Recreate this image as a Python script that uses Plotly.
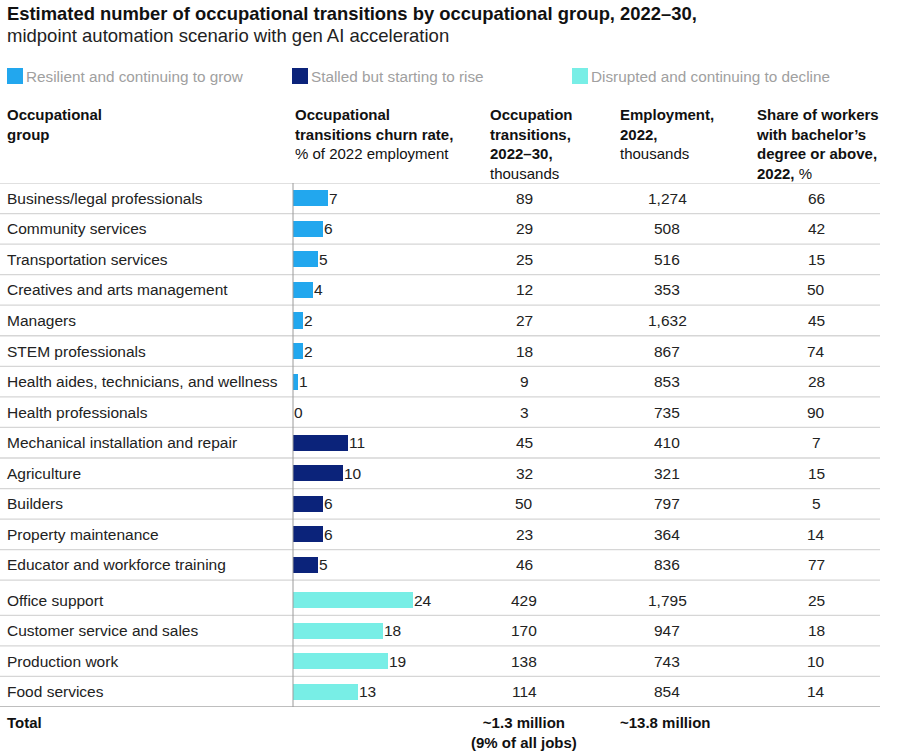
import plotly.graph_objects as go

# ---------------- data ----------------
occupations = [
    "Business/legal professionals", "Community services", "Transportation services",
    "Creatives and arts management", "Managers", "STEM professionals",
    "Health aides, technicians, and wellness", "Health professionals",
    "Mechanical installation and repair", "Agriculture", "Builders",
    "Property maintenance", "Educator and workforce training",
    "Office support", "Customer service and sales", "Production work", "Food services",
]
group_of_row = [0] * 8 + [1] * 5 + [2] * 4
churn_rate = [7, 6, 5, 4, 2, 2, 1, 0, 11, 10, 6, 6, 5, 24, 18, 19, 13]
transitions = [89, 29, 25, 12, 27, 18, 9, 3, 45, 32, 50, 23, 46, 429, 170, 138, 114]
employment = [1274, 508, 516, 353, 1632, 867, 853, 735, 410, 321, 797, 364, 836, 1795, 947, 743, 854]
bachelor_share = [66, 42, 15, 50, 45, 74, 28, 90, 7, 15, 5, 14, 77, 25, 18, 10, 14]
group_names = ["Resilient and continuing to grow", "Stalled but starting to rise",
               "Disrupted and continuing to decline"]
total_transitions = "~1.3 million<br>(9% of all jobs)"
total_employment = "~13.8 million"

# ---------------- style ----------------
W, H = 900, 755
colors = ["#22A7EE", "#0B237A", "#78EEE6"]
FONT = "Liberation Sans"
TXT = "#222222"

def px(x):
    return x / W

def py(y):
    return 1 - y / H

# row positions (Office support row slightly taller)
ypos = [i + (0.15 if i >= 13 else 0.0) for i in range(len(occupations))]
top_px, bot_px = 183, 707
y_top, y_bot = -0.5, ypos[-1] + 0.5

fig = go.Figure()
for g, name in enumerate(group_names):
    idx = [i for i, gg in enumerate(group_of_row) if gg == g]
    fig.add_trace(go.Bar(
        x=[churn_rate[i] for i in idx],
        y=[ypos[i] for i in idx],
        orientation="h",
        marker=dict(color=colors[g], line=dict(width=0)),
        width=0.53,
        name=name,
        showlegend=False,
        hoverinfo="skip",
    ))

annotations = []
shapes = []

# title
annotations.append(dict(x=px(5), y=py(13.5), xref="paper", yref="paper", xanchor="left", yanchor="middle",
                        text="<b>Estimated number of occupational transitions by occupational group, 2022–30,</b>",
                        showarrow=False, font=dict(family=FONT, size=18.4, color="#111111")))
annotations.append(dict(x=px(5), y=py(35), xref="paper", yref="paper", xanchor="left", yanchor="middle",
                        text="midpoint automation scenario with gen AI acceleration",
                        showarrow=False, font=dict(family=FONT, size=18.5, color="#222222")))

# legend
leg_x = [7, 292, 572]
for g, name in enumerate(group_names):
    shapes.append(dict(type="rect", xref="paper", yref="paper",
                       x0=px(leg_x[g]), x1=px(leg_x[g] + 16), y0=py(84), y1=py(68),
                       fillcolor=colors[g], line=dict(width=0)))
    annotations.append(dict(x=px(leg_x[g] + 17), y=py(76), xref="paper", yref="paper",
                            xanchor="left", yanchor="middle", text=name, showarrow=False,
                            font=dict(family=FONT, size=15.3, color="#a0a0a0")))

# headers
hdr_font = dict(family=FONT, size=15, color="#111111")
headers = [
    (5, "<b>Occupational<br>group</b>"),
    (293, "<b>Occupational<br>transitions churn rate,</b><br>% of 2022 employment"),
    (488, "<b>Occupation<br>transitions,<br>2022–30,</b><br>thousands"),
    (618, "<b>Employment,<br>2022,</b><br>thousands"),
    (754, "<b>Share of workers<br>with bachelor’s<br>degree or above,<br>2022,</b> %"),
]
for x, t in headers:
    annotations.append(dict(x=px(x), y=py(104), xref="paper", yref="paper", xanchor="left", yanchor="top",
                            text=t, showarrow=False, align="left", font=hdr_font))

# body rows
body_font = dict(family=FONT, size=15.5, color=TXT)
for i, occ in enumerate(occupations):
    annotations.append(dict(x=px(5), y=ypos[i], xref="paper", yref="y", xanchor="left", yanchor="middle",
                            text=occ, showarrow=False, font=body_font))
    # bar value label right at the end of the bar
    annotations.append(dict(x=churn_rate[i], y=ypos[i], xref="x", yref="y", xanchor="left", yanchor="middle",
                            text=str(churn_rate[i]), showarrow=False, xshift=-1, font=body_font))
    for cx, val in [(524, f"{transitions[i]:,}"), (667, f"{employment[i]:,}"), (816, f"{bachelor_share[i]}")]:
        annotations.append(dict(x=px(cx), y=ypos[i], xref="paper", yref="y", xanchor="center",
                                yanchor="middle", text=val, showarrow=False, font=body_font))

# totals
tot_font = dict(family=FONT, size=15, color="#111111")
annotations.append(dict(x=px(5), y=py(722), xref="paper", yref="paper", xanchor="left", yanchor="middle",
                        text="<b>Total</b>", showarrow=False, font=tot_font))
annotations.append(dict(x=px(524), y=py(712), xref="paper", yref="paper", xanchor="center", yanchor="top",
                        text=f"<b>{total_transitions}</b>", showarrow=False, font=tot_font))
annotations.append(dict(x=px(665), y=py(722), xref="paper", yref="paper", xanchor="center", yanchor="middle",
                        text=f"<b>{total_employment}</b>", showarrow=False, font=tot_font))

# row separator lines
bounds = [y_top]
for i in range(1, len(ypos)):
    bounds.append(12.5 if i == 13 else (ypos[i - 1] + ypos[i]) / 2)
for b in bounds:
    shapes.append(dict(type="line", xref="paper", yref="y", x0=0, x1=px(880), y0=b, y1=b,
                       line=dict(color="#d6d6d6", width=1.3)))
shapes.append(dict(type="line", xref="paper", yref="y", x0=0, x1=px(880), y0=y_bot, y1=y_bot,
                   line=dict(color="#a8a8a8", width=1.6)))
# bar baseline
shapes.append(dict(type="line", xref="paper", yref="y", x0=px(293), x1=px(293), y0=y_top, y1=y_bot,
                   line=dict(color="#9a9a9a", width=1)))

fig.update_layout(
    width=W, height=H,
    margin=dict(l=0, r=0, t=0, b=0),
    paper_bgcolor="white", plot_bgcolor="rgba(0,0,0,0)",
    xaxis=dict(domain=[px(293), px(293 + 5 * 40)], range=[0, 40], visible=False, fixedrange=True),
    yaxis=dict(domain=[py(bot_px), py(top_px)], range=[y_bot, y_top], visible=False, fixedrange=True),
    bargap=0, barmode="overlay",
    annotations=annotations, shapes=shapes,
)

# remove the browser's default page margin so the 900x755 figure fills the window
fig.write_html("out.html",
               config={"displayModeBar": False, "staticPlot": True},
               post_script="document.body.style.margin='0';document.body.style.overflow='hidden';")
